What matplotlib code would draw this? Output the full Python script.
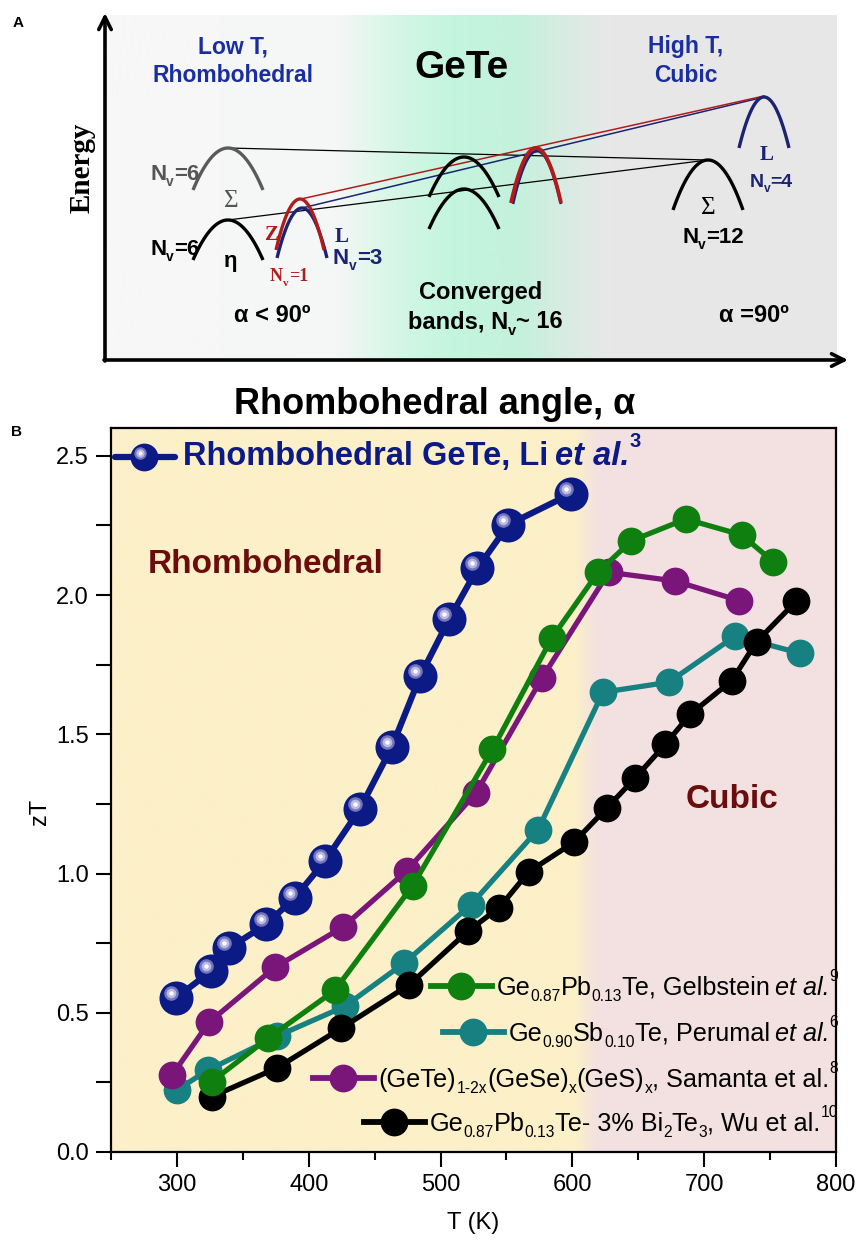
import matplotlib
matplotlib.use('Agg')
import matplotlib.pyplot as plt
import numpy as np
from matplotlib.transforms import offset_copy
from matplotlib.ticker import MultipleLocator, FormatStrFormatter

# ---------------- data (panel B) ----------------
T_li = [299.5, 325.7, 339.8, 367.5, 389.4, 412.1, 438.6, 463.0, 484.7, 506.6, 528.0, 551.5, 598.7]
zT_li = [0.554, 0.649, 0.733, 0.817, 0.913, 1.044, 1.230, 1.454, 1.710, 1.914, 2.096, 2.253, 2.363]
T_gel = [326.5, 369.3, 419.7, 478.9, 539.4, 584.3, 619.5, 644.8, 686.0, 728.4, 752.4]
zT_gel = [0.253, 0.409, 0.580, 0.957, 1.446, 1.845, 2.082, 2.195, 2.273, 2.216, 2.120]
T_per = [300.0, 323.9, 375.6, 427.3, 472.6, 523.0, 574.0, 623.2, 673.1, 723.6, 772.8]
zT_per = [0.223, 0.295, 0.415, 0.523, 0.679, 0.888, 1.158, 1.651, 1.687, 1.853, 1.791]
T_sam = [296.2, 324.4, 374.3, 426.0, 474.3, 527.0, 577.2, 627.6, 677.5, 726.7]
zT_sam = [0.275, 0.466, 0.663, 0.808, 1.010, 1.290, 1.704, 2.082, 2.051, 1.980]
T_wu = [326.5, 375.6, 424.8, 476.4, 520.5, 544.6, 567.1, 601.1, 626.3, 647.8, 670.5, 689.4, 720.8, 739.7, 770.0]
zT_wu = [0.199, 0.301, 0.445, 0.601, 0.792, 0.878, 1.007, 1.112, 1.236, 1.344, 1.464, 1.572, 1.692, 1.832, 1.979]

x_ticks = [300, 400, 500, 600, 700, 800]
y_ticks = [0.0, 0.5, 1.0, 1.5, 2.0, 2.5]

SUB = {'scale': 0.62, 'dy': -0.25}
SUP = {'scale': 0.62, 'dy': 0.55}
ITAL = {'style': 'italic', 'gap': 5}
label_li = [('Rhombohedral GeTe, Li', {}), ('et al.', {'style': 'italic', 'gap': 7}), ('3', SUP)]
label_gel = [('Ge', {}), ('0.87', SUB), ('Pb', {}), ('0.13', SUB), ('Te, Gelbstein', {}), ('et al.', ITAL), ('9', SUP)]
label_per = [('Ge', {}), ('0.90', SUB), ('Sb', {}), ('0.10', SUB), ('Te, Perumal', {}), ('et al.', ITAL), ('6', SUP)]
label_sam = [('(GeTe)', {}), ('1-2x', SUB), ('(GeSe)', {}), ('x', SUB), ('(GeS)', {}), ('x', SUB),
             (', Samanta et al.', {}), ('8', SUP)]
label_wu = [('Ge', {}), ('0.87', SUB), ('Pb', {}), ('0.13', SUB), ('Te- 3% Bi', {}), ('2', SUB), ('Te', {}),
            ('3', SUB), (', Wu et al.', {}), ('10', SUP)]

# ---------------- colours ----------------
C_LI = '#0b1a84'
C_GEL = '#0f800f'
C_PER = '#178080'
C_SAM = '#7a157a'
C_WU = '#000000'
C_DARKRED = '#6b0d0d'
C_HEAD = '#1a2ea0'
C_NAVY = '#1c2472'
C_RED = '#b01c1c'

W, H = 859, 1240
plt.rcParams['font.family'] = ['Liberation Sans', 'DejaVu Sans']
fig = plt.figure(figsize=(W / 100, H / 100), dpi=100)

# ---------------- panel B ----------------
axB = fig.add_axes([111 / W, 1 - 1152 / H, (836 - 111) / W, (1152 - 428) / H])
axB.set_xlim(250, 800)
axB.set_ylim(0, 2.6)

Tg = np.linspace(250, 800, 1101)
yel = np.array([252, 240, 201]) / 255
pink = np.array([243, 225, 225]) / 255
frac = np.clip((Tg - 603) / 15.0, 0, 1)
cols = yel[None, :] * (1 - frac[:, None]) + pink[None, :] * frac[:, None]
axB.imshow(cols[None, :, :], extent=[250, 800, 0, 2.6], aspect='auto', zorder=0,
           interpolation='bilinear')

for T, z, c, zo in [(T_per, zT_per, C_PER, 3), (T_wu, zT_wu, C_WU, 4),
                    (T_sam, zT_sam, C_SAM, 5), (T_gel, zT_gel, C_GEL, 6)]:
    axB.plot(T, z, '-o', color=c, lw=3.8, ms=20, mew=0, zorder=zo)
axB.plot(T_li, zT_li, '-o', color=C_LI, lw=4.5, ms=24.5, mew=0, zorder=7)
hl = offset_copy(axB.transData, fig=fig, x=-5, y=5, units='dots')
axB.plot(T_li, zT_li, 'o', transform=hl, ms=10.5, color='#7474bb', mew=0, zorder=8)
axB.plot(T_li, zT_li, 'o', transform=hl, ms=7, color='#b9b9e6', mew=0, zorder=8)
axB.plot(T_li, zT_li, 'o', transform=hl, ms=3.2, color='white', mew=0, zorder=8)

axB.set_xticks(x_ticks)
axB.set_yticks(y_ticks)
axB.xaxis.set_minor_locator(MultipleLocator(50))
axB.yaxis.set_minor_locator(MultipleLocator(0.25))
axB.yaxis.set_major_formatter(FormatStrFormatter('%.1f'))
axB.tick_params(which='both', direction='out', top=False, right=False, width=1.5,
                labelsize=17, pad=5)
axB.tick_params(axis='x', which='major', length=11)
axB.tick_params(axis='x', which='minor', length=6)
axB.tick_params(axis='y', which='both', length=11)
for s in axB.spines.values():
    s.set_linewidth(1.6)
axB.set_xlabel('T (K)', fontsize=17)
axB.set_ylabel('zT', fontsize=17)
axB.xaxis.set_label_coords(0.5, -0.083)
axB.yaxis.set_label_coords(-0.083, 0.47)

# ---------------- overlay (pixel coordinates) ----------------
ov = fig.add_axes([0, 0, 1, 1], zorder=10)
ov.set_xlim(0, W)
ov.set_ylim(H, 0)
ov.axis('off')
ov.patch.set_alpha(0)
R = fig.canvas.get_renderer()


def rich(x, y, segs, size=16, color='k', weight='normal', family='Liberation Sans', ha='left'):
    objs = []
    cx = 0.0
    for s, p in segs:
        sz = size * p.get('scale', 1.0)
        dy = p.get('dy', 0.0) * size * 100 / 72
        cx += p.get('gap', 0)
        t = ov.text(0, y - dy, s, fontsize=sz, fontweight=p.get('weight', weight),
                    fontstyle=p.get('style', 'normal'), family=family,
                    color=p.get('color', color), va='baseline', ha='left', zorder=20)
        w = t.get_window_extent(R).width
        objs.append((t, cx))
        cx += w
    x0 = x if ha == 'left' else (x - cx if ha == 'right' else x - cx / 2)
    for t, off in objs:
        t.set_x(x0 + off)
    return x0, cx


# panel A background
gx = np.linspace(105, 837, 733)
stops = [105, 335, 400, 450, 520, 560, 610, 837]
rr = [247, 245, 212, 196, 196, 214, 232, 231]
gg = [247, 247, 246, 245, 241, 236, 232, 231]
bb = [247, 246, 230, 222, 220, 226, 232, 231]
bg = np.stack([np.interp(gx, stops, rr), np.interp(gx, stops, gg), np.interp(gx, stops, bb)], axis=1) / 255
ov.imshow(bg[None, :, :], extent=[105, 837, 360, 15], aspect='auto', zorder=1, interpolation='bilinear')
ov.set_xlim(0, W)
ov.set_ylim(H, 0)

# axes arrows
arrow = dict(arrowstyle='->,head_width=0.45,head_length=0.9', lw=2.6, color='k', shrinkA=0, shrinkB=0)
ov.annotate('', xy=(105, 13), xytext=(105, 361), arrowprops=arrow, zorder=5)
ov.annotate('', xy=(848, 360), xytext=(104, 360), arrowprops=arrow, zorder=5)


def band(px, py, hw, depth, color, lw=2.4, z=4):
    xs = np.linspace(px - hw, px + hw, 60)
    ys = py + depth * ((xs - px) / hw) ** 2
    ov.plot(xs, ys, color=color, lw=lw, solid_capstyle='butt', zorder=z)


# connection lines
ov.plot([228, 708], [148, 160], color='k', lw=0.9, zorder=3)
ov.plot([228, 708], [220, 160], color='k', lw=0.9, zorder=3)
ov.plot([302, 764], [208, 97], color=C_NAVY, lw=1.1, zorder=3)
ov.plot([301, 764], [199, 96], color=C_RED, lw=1.1, zorder=3)

band(228, 148, 35, 42, '#5a5a5a')
band(228, 220, 35, 40, 'k')
band(302, 208, 25, 50, C_NAVY)
band(300, 199, 24, 51, C_RED, z=5)
band(464, 157, 35, 40, 'k')
band(464, 189, 35, 40, 'k')
band(537, 151, 24, 53, C_NAVY, lw=2.0)
band(536, 148, 25, 55, C_RED, lw=2.8, z=5)
band(708, 160, 35, 50, 'k')
band(764, 97, 25, 51, C_NAVY)

# panel A text
ov.text(18, 23, 'A', fontsize=11, fontweight='bold', ha='center', va='center')
ov.text(233, 47, 'Low T,', fontsize=16.5, fontweight='bold', color=C_HEAD, ha='center', va='center')
ov.text(233, 75, 'Rhombohedral', fontsize=16.5, fontweight='bold', color=C_HEAD, ha='center', va='center')
ov.text(686, 47, 'High T,', fontsize=16.5, fontweight='bold', color=C_HEAD, ha='center', va='center')
ov.text(686, 75, 'Cubic', fontsize=16.5, fontweight='bold', color=C_HEAD, ha='center', va='center')
ov.text(461, 68, 'GeTe', fontsize=28, fontweight='bold', ha='center', va='center')
ov.text(82, 168, 'Energy', fontsize=21, fontweight='bold', family='Liberation Serif', rotation=90,
        ha='center', va='center')

NV = lambda rest: [('N', {}), ('v', {'scale': 0.62, 'dy': -0.28}), (rest, {})]
rich(150, 180, NV('=6'), size=16, color='#555555', weight='bold')
rich(150, 255, NV('=6'), size=16, color='k', weight='bold')
ov.text(231, 201, 'Σ', fontsize=18, family='Liberation Serif', color='#555555', ha='center', va='center')
ov.text(231, 261, 'η', fontsize=16, fontweight='bold', color='k', ha='center', va='center')
ov.text(272, 235, 'Z', fontsize=15, fontweight='bold', family='Liberation Serif', color=C_RED,
        ha='center', va='center')
rich(270, 281, NV('=1'), size=13, color=C_RED, weight='bold', family='Liberation Serif')
ov.text(342, 237, 'L', fontsize=15, fontweight='bold', family='Liberation Serif', color=C_NAVY,
        ha='center', va='center')
rich(333, 264, NV('=3'), size=16, color=C_NAVY, weight='bold')

ov.text(708, 208, 'Σ', fontsize=18, family='Liberation Serif', color='k', ha='center', va='center')
rich(713, 243, NV('=12'), size=16, color='k', weight='bold', ha='center')
ov.text(767, 155, 'L', fontsize=15, fontweight='bold', family='Liberation Serif', color=C_NAVY,
        ha='center', va='center')
rich(771, 187, NV('=4'), size=14, color=C_NAVY, weight='bold', ha='center')

ov.text(481, 292, 'Converged', fontsize=17, fontweight='bold', ha='center', va='center')
rich(485, 328, [('bands, N', {}), ('v', {'scale': 0.62, 'dy': -0.28}), ('~ 16', {})],
     size=17, weight='bold', ha='center')
ov.text(272, 315, 'α < 90º', fontsize=17, fontweight='bold', ha='center', va='center')
ov.text(754, 315, 'α =90º', fontsize=17, fontweight='bold', ha='center', va='center')
ov.text(435, 405, 'Rhombohedral angle, α', fontsize=26, fontweight='bold', ha='center', va='center')

# panel B annotations
ov.text(16, 432, 'B', fontsize=11, fontweight='bold', ha='center', va='center')
ov.text(148, 573, 'Rhombohedral', fontsize=24, fontweight='bold', color=C_DARKRED, ha='left', va='baseline')
ov.text(732, 808, 'Cubic', fontsize=24, fontweight='bold', color=C_DARKRED, ha='center', va='baseline')

# top legend (Li)
ov.plot([115, 175], [457, 457], color=C_LI, lw=4.5, solid_capstyle='round', zorder=15)
ov.plot([144], [457], 'o', color=C_LI, ms=20, mew=0, zorder=16)
ov.plot([140], [453], 'o', color='#7474bb', ms=9, mew=0, zorder=17)
ov.plot([140], [453], 'o', color='#b9b9e6', ms=6, mew=0, zorder=17)
ov.plot([140], [453], 'o', color='white', ms=2.8, mew=0, zorder=17)
rich(183, 465, label_li, size=23.5, color=C_LI, weight='bold')

# bottom-right legend
for segs, c, yb in [(label_gel, C_GEL, 995), (label_per, C_PER, 1041),
                    (label_sam, C_SAM, 1087), (label_wu, C_WU, 1131)]:
    x0, w = rich(838, yb, segs, size=18.2, color='k', ha='right')
    ym = yb - 9
    ov.plot([x0 - 66, x0 - 5], [ym, ym], color=c, lw=4.2, zorder=15)
    ov.plot([x0 - 36], [ym], 'o', color=c, ms=20, mew=0, zorder=16)

fig.savefig('out.png', dpi=100)
